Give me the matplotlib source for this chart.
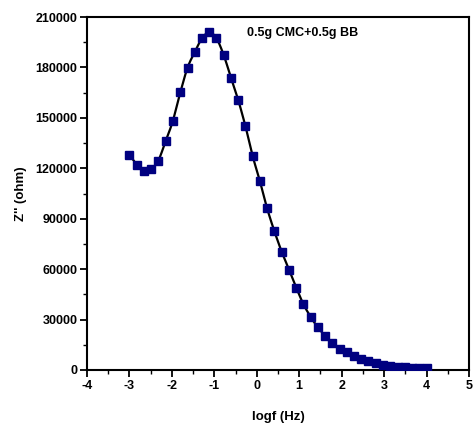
import matplotlib
matplotlib.use("Agg")
import matplotlib.pyplot as plt
import numpy as np
from matplotlib.ticker import MultipleLocator

plt.rcParams['font.family'] = ['Liberation Sans', 'DejaVu Sans']
plt.rcParams['font.weight'] = 'bold'
plt.rcParams['axes.unicode_minus'] = False

logf = [-3.00, -2.83, -2.66, -2.49, -2.32, -2.15, -1.98, -1.80, -1.63, -1.46,
        -1.29, -1.12, -0.95, -0.78, -0.61, -0.44, -0.27, -0.10, 0.07, 0.24,
        0.41, 0.59, 0.76, 0.93, 1.10, 1.27, 1.44, 1.61, 1.78, 1.95,
        2.12, 2.29, 2.46, 2.63, 2.80, 2.98, 3.15, 3.32, 3.49, 3.66,
        3.83, 4.00]
zim = [128000, 122200, 118400, 119600, 124600, 136000, 148000, 165300, 179900, 189200,
       197300, 200900, 197300, 187400, 174000, 160800, 145300, 127500, 112700, 96500,
       82900, 70200, 59700, 49000, 39100, 31600, 25300, 20400, 16200, 12700,
       10500, 8200, 6300, 5100, 4000, 3100, 2600, 2000, 1600, 1300,
       1100, 900]


def smooth_line(x, y, n=12):
    """Catmull-Rom curve through the points (for drawing the connecting line)."""
    x = np.asarray(x, float)
    y = np.asarray(y, float)
    P = np.column_stack([x, y])
    P = np.vstack([P[0] - (P[1] - P[0]), P, P[-1] + (P[-1] - P[-2])])
    out = []
    t = np.linspace(0, 1, n, endpoint=False)[:, None]
    for i in range(1, len(P) - 2):
        p0, p1, p2, p3 = P[i - 1], P[i], P[i + 1], P[i + 2]
        seg = 0.5 * ((2 * p1) + (-p0 + p2) * t + (2 * p0 - 5 * p1 + 4 * p2 - p3) * t ** 2
                     + (-p0 + 3 * p1 - 3 * p2 + p3) * t ** 3)
        out.append(seg)
    out.append(P[-2][None, :])
    out = np.vstack(out)
    return out[:, 0], out[:, 1]


fig = plt.figure(figsize=(4.74, 4.32), dpi=100)
ax = fig.add_axes([87/474, 62/432, (469-87)/474, (370-17)/432])

sx, sy = smooth_line(logf, zim)
ax.plot(sx, sy, color='black', lw=1.6, zorder=2)
ax.plot(logf, zim, ls='none', marker='s', ms=5.5, color='#000080',
        markeredgecolor='#000080', zorder=3)

ax.set_xlim(-4, 5)
ax.set_ylim(0, 210000)
ax.xaxis.set_major_locator(MultipleLocator(1))
ax.xaxis.set_minor_locator(MultipleLocator(0.5))
ax.yaxis.set_major_locator(MultipleLocator(30000))
ax.yaxis.set_minor_locator(MultipleLocator(15000))

for s in ax.spines.values():
    s.set_linewidth(1.5)
ax.tick_params(which='major', direction='out', length=5, width=1.3, labelsize=9, pad=2)
ax.tick_params(which='minor', direction='out', length=3, width=1.0)
for lab in ax.get_xticklabels() + ax.get_yticklabels():
    lab.set_fontweight('bold')

ax.set_xlabel('logf (Hz)', fontsize=9.5, fontweight='bold', labelpad=14)
ax.set_ylabel("Z'' (ohm)", fontsize=9.5, fontweight='bold', labelpad=6)
ax.text(0.42, 0.955, '0.5g CMC+0.5g BB', transform=ax.transAxes,
        fontsize=9, fontweight='bold', ha='left', va='center')

fig.savefig('out.png', dpi=100)
